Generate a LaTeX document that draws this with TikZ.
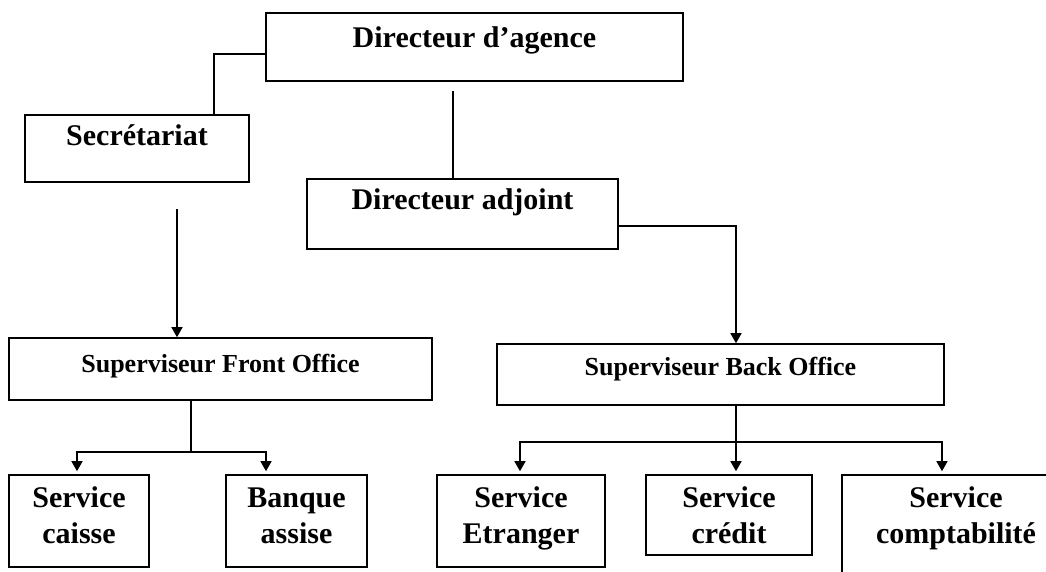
\documentclass[tikz,border=0pt]{standalone}
\usepackage{fontspec}
\setmainfont{Liberation Serif}
\usetikzlibrary{arrows.meta,calc}

\begin{document}
\begin{tikzpicture}[x=1pt, y=-1pt,
	box/.style={rectangle, draw, line width=1.6pt, inner xsep=2pt, inner ysep=0pt,
		align=center, font=\fontsize{30}{36}\selectfont\bfseries},
	supbox/.style={box, font=\fontsize{26}{31}\selectfont\bfseries},
	lnk/.style={line width=1.4pt},
	arr/.style={lnk, -{Triangle[length=10pt,width=11pt]}}]
	
	\useasboundingbox (0,0) rectangle (1046,572);
	\clip (0,0) rectangle (1046,572);
	
	% Direction
	\node[box, minimum width=417pt, text height=35pt, text depth=33pt] (DA) at (474.5,47) {Directeur d'agence};
	\node[box, minimum width=224pt, text height=31pt, text depth=36pt] (Sec) at (137,148.5) {Secrétariat};
	\node[box, minimum width=311pt, text height=31pt, text depth=39pt] (Adj) at (462.5,214) {Directeur adjoint};
	
	% Supervisors
	\node[supbox, minimum width=423pt, text height=34pt, text depth=28pt] (FO) at (220.5,369) {Superviseur Front Office};
	\node[supbox, minimum width=447pt, text height=31pt, text depth=30pt] (BO) at (720.5,374.5) {Superviseur Back Office};
	
	% Services
	\node[box, minimum width=140pt, text height=68pt, text depth=24pt] (S1) at (79,521) {Service\\caisse};
	\node[box, minimum width=141pt, text height=68pt, text depth=24pt] (S2) at (296.5,521) {Banque\\assise};
	\node[box, minimum width=168pt, text height=68pt, text depth=24pt] (S3) at (521,521) {Service\\Etranger};
	\node[box, minimum width=166pt, text height=68pt, text depth=12pt] (S4) at (729,515) {Service\\crédit};
	\node[box, minimum width=228pt, text height=68pt, text depth=57pt] (S5) at (956,537.5) {Service\\comptabilité};
	
	\coordinate (FOj) at (191,452);
	\coordinate (BOj) at (736,442);
	
	% Links
	\draw[lnk] ([yshift=-7pt]DA.west) -| ([xshift=77pt]Sec.north);
	\draw[lnk, shorten <=9pt] ([xshift=-21.5pt]DA.south) -- ([xshift=-9.5pt]Adj.north);
	\draw[arr, shorten <=26pt] ([xshift=40pt]Sec.south) -- ([xshift=-43.5pt]FO.north);
	\draw[arr] ([yshift=-12pt]Adj.east) -| ([xshift=15.5pt]BO.north);
	
	\draw[lnk] ([xshift=-29.5pt]FO.south) -- (FOj);
	\draw[arr] (FOj) -| ([xshift=-2pt,yshift=3pt]S1.north);
	\draw[arr] (FOj) -| ([xshift=-30.5pt,yshift=3pt]S2.north);
	
	\draw[lnk] ([xshift=15.5pt]BO.south) -- (BOj);
	\draw[arr] (BOj) -| ([xshift=-1pt,yshift=3pt]S3.north);
	\draw[arr] (BOj) -- ([xshift=7pt,yshift=3pt]S4.north);
	\draw[arr] (BOj) -| ([xshift=-14pt,yshift=3pt]S5.north);
\end{tikzpicture}
\end{document}
